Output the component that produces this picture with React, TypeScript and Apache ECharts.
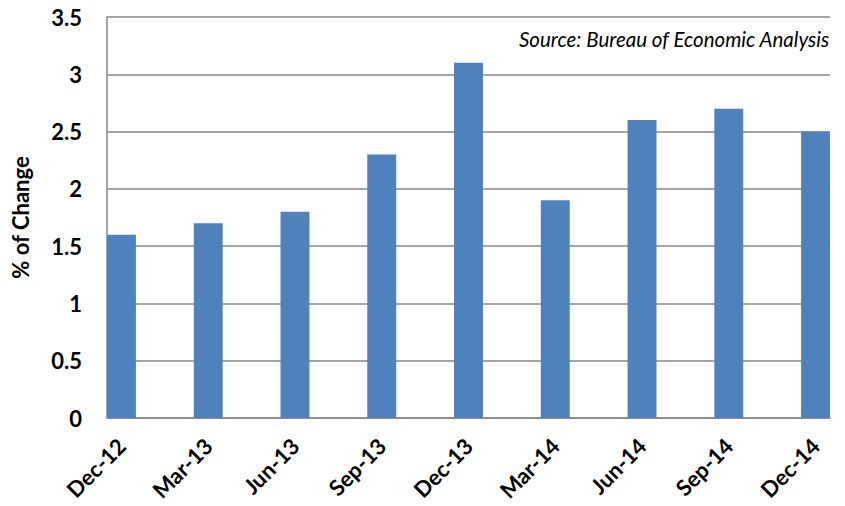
import React, { useEffect, useRef } from "react";
import * as echarts from "echarts";

const quarters = ["Dec-12", "Mar-13", "Jun-13", "Sep-13", "Dec-13", "Mar-14", "Jun-14", "Sep-14", "Dec-14"];
const values = [1.6, 1.7, 1.8, 2.3, 3.1, 1.9, 2.6, 2.7, 2.5];
const yTicks = [0, 0.5, 1, 1.5, 2, 2.5, 3, 3.5];
const sourceText = "Source: Bureau of Economic Analysis";
const yTitle = "% of Change";

// monthly slots on a date-like axis: one quarter = 3 months
const monthsPerQuarter = 3;

export default function App() {
  const ref = useRef<HTMLDivElement>(null);
  useEffect(() => {
    if (!ref.current) return;
    const chart = echarts.init(ref.current, null, { renderer: "svg" });
    const slotCount = (quarters.length - 1) * monthsPerQuarter + 1;
    const slots: string[] = [];
    const data: (number | null)[] = [];
    for (let i = 0; i < slotCount; i++) {
      slots.push(String(i));
      data.push(i % monthsPerQuarter === 0 ? values[i / monthsPerQuarter] : null);
    }
    const font = "Lato, 'Liberation Sans', sans-serif";
    chart.setOption({
      animation: false,
      grid: { left: 107, right: 15, top: 17, bottom: 88, containLabel: false },
      xAxis: {
        type: "category",
        data: slots,
        boundaryGap: true,
        axisLine: { show: true, lineStyle: { color: "#878787", width: 1.5 } },
        axisTick: { show: false },
        axisLabel: {
          interval: monthsPerQuarter - 1,
          rotate: 45,
          margin: 24,
          fontFamily: font,
          fontWeight: "bold",
          fontSize: 22,
          color: "#000",
          formatter: (_v: string, idx: number) =>
            idx % monthsPerQuarter === 0 ? quarters[idx / monthsPerQuarter] : "",
        },
        splitLine: { show: false },
      },
      yAxis: {
        type: "value",
        min: yTicks[0],
        max: yTicks[yTicks.length - 1],
        interval: yTicks[1] - yTicks[0],
        name: yTitle,
        nameLocation: "middle",
        nameRotate: 90,
        nameGap: 76,
        nameTextStyle: { fontFamily: font, fontWeight: "bold", fontSize: 22, color: "#000" },
        axisLine: { show: true, lineStyle: { color: "#878787", width: 1.5 } },
        axisTick: { show: false },
        axisLabel: {
          margin: 25,
          fontFamily: font,
          fontWeight: "bold",
          fontSize: 22,
          color: "#000",
        },
        splitLine: { show: true, lineStyle: { color: "#878787", width: 1.5 } },
      },
      series: [
        {
          type: "bar",
          data,
          barCategoryGap: "0%",
          barWidth: "100%",
          itemStyle: { color: "#4F81BD" },
        },
      ],
      graphic: [
        {
          type: "text",
          right: 15,
          top: 29,
          style: {
            text: sourceText,
            fontFamily: font,
            fontStyle: "italic",
            fontSize: 20.5,
            fill: "#000",
          },
        },
      ],
    });
    return () => chart.dispose();
  }, []);
  return (
    <div
      ref={ref}
      style={{ position: "absolute", left: 0, top: 0, width: 845, height: 506 }}
    />
  );
}
